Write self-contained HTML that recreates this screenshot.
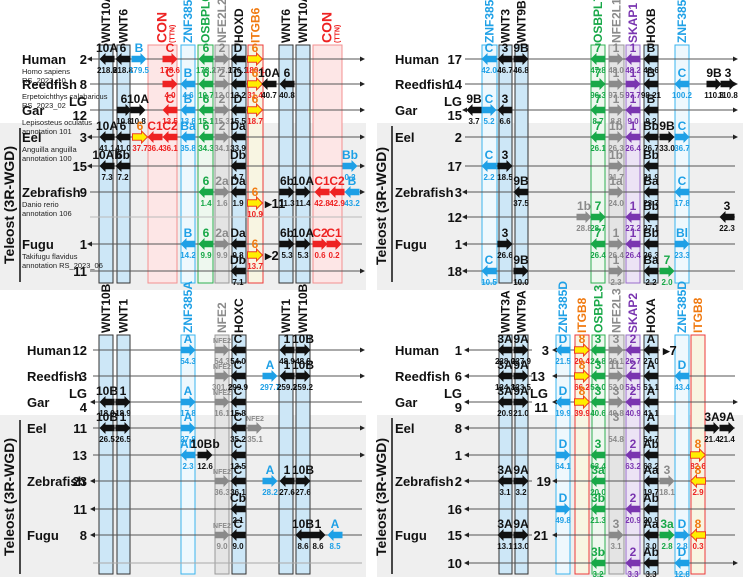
<!DOCTYPE html>
<html><head><meta charset="utf-8"><style>
html,body{margin:0;padding:0;background:#fff}
svg{display:block;font-family:"Liberation Sans",Arial,sans-serif;font-weight:bold}
</style></head><body>
<svg id="fig" width="743" height="577" viewBox="0 0 743 577" xmlns="http://www.w3.org/2000/svg"></svg>
<script>
// ---- data ----
const COL={cyan:'#1ea0e6',green:'#18a848',grey:'#8a8a8a',red:'#ee2222',purple:'#7a35b0',black:'#111',orange:'#f07a10',yel:'#ffee00'};
const rowsTop=[59,84,110,137,166,192,217,244,271];
const rowsBot=[350,376,402,428,455,481,509,535,563];
const columnsTL=[[99,113,'hox','WNT10A'],[117,130,'hox','WNT6'],[148,177,'red','CON'],[181,195,'cyan','ZNF385B'],[198,213,'green','OSBPL6'],[215,229,'grey','NFE2L2'],[232,246,'hox','HOXD'],[248,263,'itg','ITGB6'],[279,293,'hox','WNT6'],[296,310,'hox','WNT10A'],[313,342,'red','CON']];
const columnsTR=[[482,497,'cyan','ZNF385C'],[499,512,'hox','WNT3'],[515,528,'hox','WNT9B'],[591,605,'green','OSBPL7'],[609,624,'grey','NFE2L1'],[626,640,'purple','SKAP1'],[644,658,'hox','HOXB'],[675,689,'cyan','ZNF385C']];
const columnsBL=[[99,113,'hox','WNT10B'],[117,130,'hox','WNT1'],[181,195,'cyan','ZNF385A'],[215,229,'grey','NFE2'],[232,246,'hox','HOXC'],[279,293,'hox','WNT1'],[296,310,'hox','WNT10B']];
const columnsBR=[[499,512,'hox','WNT3A'],[515,528,'hox','WNT9A'],[556,570,'cyan','ZNF385D'],[575,589,'itg','ITGB8'],[592,605,'green','OSBPL3'],[609,624,'grey','NFE2L3'],[626,640,'purple','SKAP2'],[644,658,'hox','HOXA'],[675,689,'cyan','ZNF385D'],[691,705,'itg','ITGB8']];
const genesTL=[
[0,107,'L','10A','218.8','black'],[0,123,'L','6','218.8','black'],[0,139,'R','B','179.5','cyan'],[0,170,'R','C','178.6','red'],[0,206,'L','6','178.2','green'],[0,222,'R','2','177.2','grey'],[0,238,'L','D','176.1','black'],[0,255,'R','6','180.1','yel'],
[1,170,'R','C','4.0','red'],[1,188,'L','B','4.6','cyan'],[1,206,'L','6','10.7','green'],[1,222,'R','2','12.0','grey'],[1,238,'L','D','13.2','black'],[1,255,'R','6','31.4','yel'],[1,269,'L','10A','40.7','black'],[1,287,'L','6','40.8','black'],
[2,124,'R','6','10.8','black'],[2,138,'R','10A','10.8','black'],[2,170,'L','C','13.5','red'],[2,188,'L','B','13.8','cyan'],[2,206,'L','6','15.1','green'],[2,222,'R','2','15.3','grey'],[2,238,'L','D','15.5','black'],[2,255,'R','6','18.7','yel'],
[3,107,'L','10A','41.1','black'],[3,123,'L','6','41.0','black'],[3,140,'R','6','37.7','yel'],[3,155,'L','C1','36.4','red'],[3,170,'L','C2','36.1','red'],[3,188,'L','Ba','35.8','cyan'],[3,206,'L','6','34.3','green'],[3,222,'R','2','34.1','grey'],[3,238,'L','Da','33.9','black'],
[4,107,'L','10Ab','7.3','black'],[4,123,'L','6b','7.2','black'],[4,238,'L','Db','4.7','black'],[4,350,'R','Bb','0.2','cyan'],
[5,206,'L','6','1.4','green'],[5,222,'R','2a','1.6','grey'],[5,238,'L','Da','1.9','black'],[5,287,'R','6b','11.3','black'],[5,303,'R','10A','11.4','black'],[5,322,'L','C1','42.8','red'],[5,337,'L','C2','42.9','red'],[5,352,'L','B','43.2','cyan'],
[7,188,'L','B','14.2','cyan'],[7,206,'L','6','9.9','green'],[7,222,'R','2a','9.9','grey'],[7,238,'L','Da','9.8','black'],[7,287,'R','6b','5.3','black'],[7,303,'R','10A','5.3','black'],[7,320,'R','C2','0.6','red'],[7,334,'R','C1','0.2','red'],
[8,238,'L','Db','7.1','black']];
const extraTL=[[203,255,'R','6','10.9','yel','11'],[255,255,'R','6','13.7','yel','2']];
const genesTR=[
[0,489,'L','C','42.0','cyan'],[0,505,'L','3','46.7','black'],[0,521,'R','9B','46.8','black'],[0,598,'L','7','47.8','green'],[0,616,'R','1','48.0','grey'],[0,633,'L','1','48.2','purple'],[0,651,'L','B','48.6','black'],
[1,598,'R','7','96.3','green'],[1,616,'R','1','97.5','grey'],[1,633,'R','1','97.7','purple'],[1,651,'L','B','98.21','black'],[1,682,'L','C','100.2','cyan'],[1,714,'R','9B','110.8','black'],[1,728,'R','3','110.8','black'],
[2,474,'L','9B','3.7','black'],[2,489,'R','C','5.2','cyan'],[2,505,'L','3','6.6','black'],[2,598,'L','7','8.7','green'],[2,616,'R','1','8.8','grey'],[2,633,'L','1','9.0','purple'],[2,651,'L','B','9.2','black'],
[3,598,'L','7','26.1','green'],[3,616,'R','1b','26.3','grey'],[3,633,'L','1','26.4','purple'],[3,651,'L','Bb','26.7','black'],[3,667,'R','9B','33.0','black'],[3,682,'R','C','36.7','cyan'],
[4,489,'L','C','2.2','cyan'],[4,505,'R','3','18.5','black'],[4,616,'R','1b','31.7','grey'],[4,651,'L','Bb','31.9','black'],
[5,521,'L','9B','37.5','black'],[5,616,'R','1a','24.0','grey'],[5,651,'L','Ba','23.7','black'],[5,682,'L','C','17.8','cyan'],
[6,584,'R','1b','28.8','grey'],[6,598,'R','7','28.7','green'],[6,633,'L','1','27.2','purple'],[6,651,'L','Bb','27.1','black'],[6,727,'L','3','22.3','black'],
[7,505,'R','3','26.6','black'],[7,598,'L','7','26.4','green'],[7,616,'R','1','26.4','grey'],[7,633,'L','1','26.4','purple'],[7,651,'L','Bb','26.3','black'],[7,682,'R','Bl','23.3','cyan'],
[8,489,'L','C','10.5','cyan'],[8,521,'R','9B','10.0','black'],[8,616,'R','1','2.3','grey'],[8,651,'L','Ba','2.2','black'],[8,667,'R','7','2.0','green']];
const genesBL=[
[0,188,'R','A','54.3','cyan'],[0,222,'R','NFE2','54.3','grey'],[0,238,'L','C','54.0','black'],[0,287,'L','1','48.9','black'],[0,303,'R','10B','48.9','black'],
[1,222,'R','NFE2','301.1','grey'],[1,238,'L','C','299.9','black'],[1,270,'R','A','297.7','cyan'],[1,287,'L','1','259.3','black'],[1,303,'R','10B','259.2','black'],
[2,107,'L','10B','18.9','black'],[2,123,'R','1','18.9','black'],[2,188,'R','A','17.8','cyan'],[2,222,'R','NFE2','16.1','grey'],[2,238,'L','C','15.8','black'],
[3,107,'L','10B','26.5','black'],[3,123,'R','1','26.5','black'],[3,188,'R','A','27.8','cyan'],[3,238,'L','C','35.2','black'],[3,255,'R','NFE2','35.1','grey'],
[4,188,'L','Ab','2.3','cyan'],[4,205,'R','10Bb','12.6','black'],[4,238,'L','C','13.5','black'],
[5,222,'R','NFE2','36.3','grey'],[5,238,'L','C','36.1','black'],[5,270,'R','A','28.2','cyan'],[5,287,'L','1','27.6','black'],[5,303,'R','10B','27.6','black'],
[6,238,'L','Cb','2.1','black'],
[7,222,'R','NFE2','9.0','grey'],[7,238,'L','C','9.0','black'],[7,303,'L','10B','8.6','black'],[7,318,'R','1','8.6','black'],[7,335,'L','A','8.5','cyan']];
const genesBR=[
[0,505,'L','3A','228.0','black'],[0,521,'R','9A','227.9','black'],[0,563,'L','D','21.5','cyan'],[0,582,'R','8','20.4','yel'],[0,598,'L','3','24.8','green'],[0,616,'R','3','26.1','grey'],[0,633,'L','2','26.7','purple'],[0,651,'L','A','27.0','black'],
[1,505,'L','3A','124.3','black'],[1,521,'R','9A','123.5','black'],[1,582,'R','8','66.2','yel'],[1,598,'L','3','53.0','green'],[1,616,'R','1L','52.0','grey'],[1,633,'L','2','51.5','purple'],[1,651,'L','A','51.1','black'],[1,682,'L','D','43.4','cyan'],
[2,505,'L','3A','20.9','black'],[2,521,'R','9A','21.0','black'],[2,563,'L','D','19.9','cyan'],[2,582,'R','8','39.9','yel'],[2,598,'L','3','40.6','green'],[2,616,'R','3','40.8','grey'],[2,633,'L','2','40.9','purple'],[2,651,'L','A','41.1','black'],
[3,651,'L','A','54.7','black'],[3,712,'R','3A','21.4','black'],[3,727,'R','9A','21.4','black'],
[4,563,'R','D','64.1','cyan'],[4,598,'L','3','63.4','green'],[4,633,'L','2','63.2','purple'],[4,651,'L','Ab','63.2','black'],[4,698,'R','8','82.6','yel'],
[5,505,'L','3A','3.1','black'],[5,521,'R','9A','3.2','black'],[5,598,'L','3a','20.0','green'],[5,651,'L','Aa','19.7','black'],[5,667,'R','3','18.1','grey'],[5,698,'L','8','2.9','yel'],
[6,563,'R','D','49.8','cyan'],[6,598,'L','3b','21.3','green'],[6,633,'L','2','20.9','purple'],[6,651,'L','Ab','20.9','black'],
[7,505,'L','3A','13.1','black'],[7,521,'R','9A','13.0','black'],[7,616,'R','3','3.1','grey'],[7,651,'L','Aa','3.0','black'],[7,667,'R','3a','2.8','green'],[7,682,'R','D','2.8','cyan'],[7,698,'L','8','0.3','yel'],
[8,598,'L','3b','3.2','green'],[8,633,'L','2','3.3','purple'],[8,651,'L','Ab','3.3','black'],[8,682,'L','D','12.8','cyan']];
const speciesL=[[0,'Human','Homo sapiens','RS_2023_10'],[1,'Reedfish','Erpetoichthys calabaricus','RS_2023_02'],[2,'Gar','Lepisosteus oculatus','annotation 101'],[3,'Eel','Anguilla anguilla','annotation 100'],[5,'Zebrafish','Danio rerio','annotation 106'],[7,'Fugu','Takifugu flavidus','annotation RS_2023_06']];
const chrTL=['2','8','LG|12','3','15','9','','1','11'];
const chrTR=['17','14','LG|15','2','17','3','12','1','18'];
const chrBL=['12','3','LG|4','11','13','23','11','8',''];
const chrBR=['1','6','LG|9','8','1','2','16','15','10'];

// ---- render ----
const S=document.getElementById('fig');const NS='http://www.w3.org/2000/svg';
function mk(t,a,p){const e=document.createElementNS(NS,t);for(const k in a)e.setAttribute(k,a[k]);(p||S).appendChild(e);return e;}
function txt(x,y,s,a){const e=mk('text',Object.assign({x:x,y:y},a));e.textContent=s;return e;}
[[0,123,366,167],[377,123,366,167],[0,415,366,162],[377,415,366,162]].forEach(r=>{
 const e=mk('rect',{x:r[0],y:r[1],width:r[2],height:r[3],fill:'#efefef'});
 
 });
const CT={hox:['#cde7f7','#333'],cyan:['#eef8fd','#3ab4ee'],green:['#eef8ef','#2eb050'],grey:['#e4e4e4','#999'],red:['#fde6e6','#f39090'],itg:['#f8f5e2','#ee3a3a'],purple:['#ece3f5','#9a6ccc']};
const HC={hox:'#111',cyan:'#1ea0e6',green:'#18a848',grey:'#8a8a8a',red:'#ee2222',itg:'#f07a10',purple:'#7a35b0'};
function columns(list,top,bot){list.forEach(c=>{
 const e=mk('rect',{x:c[0],y:top,width:c[1]-c[0],height:bot-top,fill:CT[c[2]][0],stroke:CT[c[2]][1],'stroke-width':1});
 
 
 const cx=(c[0]+c[1])/2+4;const t=txt(cx,top-2,c[2]==='red'?'CON':c[3],{transform:`rotate(-90 ${cx} ${top-2})`,fill:HC[c[2]],'font-size':c[2]==='red'?14:12});
 
 
 if(c[2]==='red'){const t2=txt(cx+8,top-2,'(TTN)',{transform:`rotate(-90 ${cx+8} ${top-2})`,fill:HC.red,'font-size':7});
  
  }});}
function line(x0,x1,y,la,ra,col){const e=mk('line',{x1:x0,y1:y,x2:x1,y2:y,stroke:col||'#555','stroke-width':1});
 
 
 if(la)mk('polygon',{points:`${x0-3},${y} ${x0+2},${y-2.5} ${x0+2},${y+2.5}`,fill:'#222'});
 if(ra)mk('polygon',{points:`${x1+3},${y} ${x1-2},${y-2.5} ${x1-2},${y+2.5}`,fill:'#222'});}
function arrow(x,y,dir,color){const c=color==='yel'?COL.yel:COL[color];const st=color==='yel'?'#ee4020':'none';
 const L=15,h=3.2,H=6,hl=6;let p;
 if(dir==='R'){const a=x-L/2,b=x+L/2;p=`${a},${y-h} ${b-hl},${y-h} ${b-hl},${y-H} ${b},${y} ${b-hl},${y+H} ${b-hl},${y+h} ${a},${y+h}`;}
 else{const a=x+L/2,b=x-L/2;p=`${a},${y-h} ${b+hl},${y-h} ${b+hl},${y-H} ${b},${y} ${b+hl},${y+H} ${b+hl},${y+h} ${a},${y+h}`;}
 const e=mk('polygon',{points:p,fill:c,stroke:st,'stroke-width':1});
 
 }
function gene(y,g){arrow(g[1],y,g[2],g[5]);
 const lc=g[5]==='yel'?COL.orange:COL[g[5]];const nc=g[5]==='yel'?COL.red:COL[g[5]];
 const small=g[3]==='NFE2';
 const l=txt(g[1],y-7,g[3],{'text-anchor':'middle',fill:lc,'font-size':small?7:12});
 
 
 const n=txt(g[1],y+14,g[4],{'text-anchor':'middle',fill:nc,'font-size':8});
 
 }
function chrLabel(x,y,s){if(!s)return;const p=s.split('|');
 if(p.length===2){txt(x,y-4,p[0],{'text-anchor':'end','font-size':13,fill:'#111'});txt(x,y+10,p[1],{'text-anchor':'end','font-size':13,fill:'#111'});}
 else{const e=txt(x,y+5,s,{'text-anchor':'end','font-size':13,fill:'#111'});}}
function species(x,ys,sub){speciesL.forEach(s=>{const y=ys[s[0]];const e=txt(x,y+5,s[1],{'font-size':13,fill:'#111'});
 
 
 if(sub){txt(x,y+15,s[2],{'font-size':7.5,'font-weight':'normal',fill:'#222'});txt(x,y+24,s[3],{'font-size':7.5,'font-weight':'normal',fill:'#222'});}});}
function teleost(y0,y1){const cy=(y0+y1)/2;const e=txt(14,cy,'Teleost (3R-WGD)',{'text-anchor':'middle','font-size':14,transform:`rotate(-90 14 ${cy})`,fill:'#111'});
 
 
 mk('line',{x1:20,y1:y0,x2:20,y2:y1,stroke:'#111','stroke-width':1.5});}

// TL
columns(columnsTL,45,283);
rowsTop.forEach((y,i)=>line(90,362,y,[0,3,4,7].includes(i),[0,1,2,3,4,5,8].includes(i),i===6?'#bbb':'#555'));
genesTL.forEach(g=>gene(rowsTop[g[0]],g));
extraTL.forEach(g=>{gene(g[0],g);txt(g[1]+10,g[0]+5,'▸'+g[6],{'font-size':13,fill:'#111'});});
rowsTop.forEach((y,i)=>chrLabel(87,y,chrTL[i]));
species(22,rowsTop,true);teleost(128,282);
// TR
columns(columnsTR,45,283);
rowsTop.forEach((y,i)=>line(465,735,y,[2,5,6,7,8].includes(i),[0,1,2,3].includes(i)));
genesTR.forEach(g=>gene(rowsTop[g[0]],g));
rowsTop.forEach((y,i)=>chrLabel(462,y,chrTR[i]));
speciesL.forEach(s=>{const e=txt(395,rowsTop[s[0]]+5,s[1],{'font-size':13,fill:'#111'});});
txt(386,206,'Teleost (3R-WGD)',{'text-anchor':'middle','font-size':14,transform:'rotate(-90 386 206)',fill:'#111'});
mk('line',{x1:392,y1:126,x2:392,y2:282,stroke:'#111','stroke-width':1.5});
// BL
columns(columnsBL,335,574);
rowsBot.forEach((y,i)=>line(93,362,y,[2,5,6,7].includes(i),[0,1,3,4].includes(i),i===8?'#aaa':'#555'));
genesBL.forEach(g=>gene(rowsBot[g[0]],g));
rowsBot.forEach((y,i)=>chrLabel(87,y,chrBL[i]));
species(27,rowsBot,false);teleost(420,574);
// BR
columns(columnsBR,335,574);
const second={0:['3',549],1:['13',545],2:['LG|11',548],5:['19',551],7:['21',548]};
rowsBot.forEach((y,i)=>{if(second[i]){line(467,532,y,true,false);line(555,i===0?660:735,y,true,i===2);chrLabel(second[i][1],y,second[i][0]);}
 else line(467,735,y,true,i===8);});
txt(663,rowsBot[0]+5,'▸7',{'font-size':13,fill:'#111'});
genesBR.forEach(g=>gene(rowsBot[g[0]],g));
txt(616,rowsBot[3]-7,'3',{'text-anchor':'middle','font-size':12,fill:COL.grey});txt(616,rowsBot[3]+14,'54.8',{'text-anchor':'middle','font-size':8,fill:COL.grey});
rowsBot.forEach((y,i)=>chrLabel(462,y,chrBR[i]));
speciesL.forEach(s=>{const e=txt(395,rowsBot[s[0]]+5,s[1],{'font-size':13,fill:'#111'});});
txt(386,497,'Teleost (3R-WGD)',{'text-anchor':'middle','font-size':14,transform:'rotate(-90 386 497)',fill:'#111'});
mk('line',{x1:392,y1:418,x2:392,y2:574,stroke:'#111','stroke-width':1.5});
</script>
</body></html>
